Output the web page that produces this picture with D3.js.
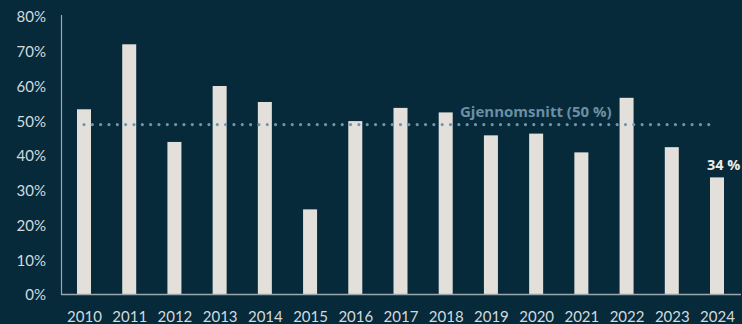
<!DOCTYPE html>
<html>
<head>
<meta charset="utf-8">
<script src="https://cdn.jsdelivr.net/npm/d3@7"></script>
<style>
  html, body { margin: 0; padding: 0; background: #072a3b; }
  svg { display: block; }
  text { font-family: Lato, "Open Sans", sans-serif; }
</style>
</head>
<body>
<div id="chart"></div>
<script>
// Share per year, with the average line
const years = ["2010","2011","2012","2013","2014","2015","2016","2017","2018","2019","2020","2021","2022","2023","2024"];
const shares = [0.533, 0.72, 0.439, 0.60, 0.554, 0.245, 0.499, 0.537, 0.524, 0.458, 0.463, 0.409, 0.566, 0.424, 0.337];
const yTicks = [0, 0.1, 0.2, 0.3, 0.4, 0.5, 0.6, 0.7, 0.8];
const average = 0.489;
const averageLabel = "Gjennomsnitt (50 %)";
const lastLabel = "34 %";

const width = 742, height = 324;
const svg = d3.select("#chart").append("svg")
  .attr("width", width)
  .attr("height", height);

const x = d3.scalePoint().domain(years).range([84, 717]);
const y = d3.scaleLinear().domain([0, 0.8]).range([294.5, 16.5]);
const barW = 14;

// y axis labels
const yAxis = svg.append("g")
  .attr("transform", "translate(46,0)")
  .call(d3.axisLeft(y).tickValues(yTicks).tickFormat(d3.format(".0%")).tickSize(0).tickPadding(0));
yAxis.select(".domain").remove();
yAxis.selectAll("text")
  .attr("dy", "0.36em")
  .style("font-family", "Lato, sans-serif")
  .style("font-size", "15px")
  .style("fill", "#d3dadd");

// bars
svg.append("g").selectAll("rect")
  .data(years)
  .join("rect")
  .attr("x", d => x(d) - barW / 2)
  .attr("y", (d, i) => y(shares[i]))
  .attr("width", barW)
  .attr("height", (d, i) => y(0) - y(shares[i]))
  .attr("fill", "#e3e0dc");

// axis lines
svg.append("line")
  .attr("x1", 61.5).attr("x2", 61.5)
  .attr("y1", 15).attr("y2", y(0))
  .attr("stroke", "#9aa8ae").attr("stroke-width", 1.2);
svg.append("line")
  .attr("x1", 61).attr("x2", 741)
  .attr("y1", y(0)).attr("y2", y(0))
  .attr("stroke", "#9aa8ae").attr("stroke-width", 1.5);

// x axis labels
const xAxis = svg.append("g")
  .attr("transform", `translate(0,${y(0)})`)
  .call(d3.axisBottom(x).tickSize(0).tickPadding(0));
xAxis.select(".domain").remove();
xAxis.selectAll("text")
  .attr("y", 27)
  .attr("dy", 0)
  .style("font-family", "Lato, sans-serif")
  .style("font-size", "15px")
  .style("fill", "#d3dadd");

// average dotted line, drawn over the bars
svg.append("line")
  .attr("x1", x("2010")).attr("x2", 714)
  .attr("y1", y(average)).attr("y2", y(average))
  .attr("stroke", "#6f97ab")
  .attr("stroke-width", 3.2)
  .attr("stroke-linecap", "round")
  .attr("stroke-dasharray", "0,8.33");

svg.append("text")
  .attr("x", 460)
  .attr("y", y(average) - 8)
  .style("font-family", "'Open Sans', sans-serif")
  .style("font-size", "15px")
  .style("font-weight", "bold")
  .style("fill", "#6c8fa3")
  .text(averageLabel);

svg.append("text")
  .attr("x", x("2024") - 10)
  .attr("y", y(shares[shares.length - 1]) - 7)
  .style("font-family", "'Open Sans', sans-serif")
  .style("font-size", "14.5px")
  .style("font-weight", "bold")
  .style("fill", "#eeeae6")
  .text(lastLabel);
</script>
</body>
</html>
